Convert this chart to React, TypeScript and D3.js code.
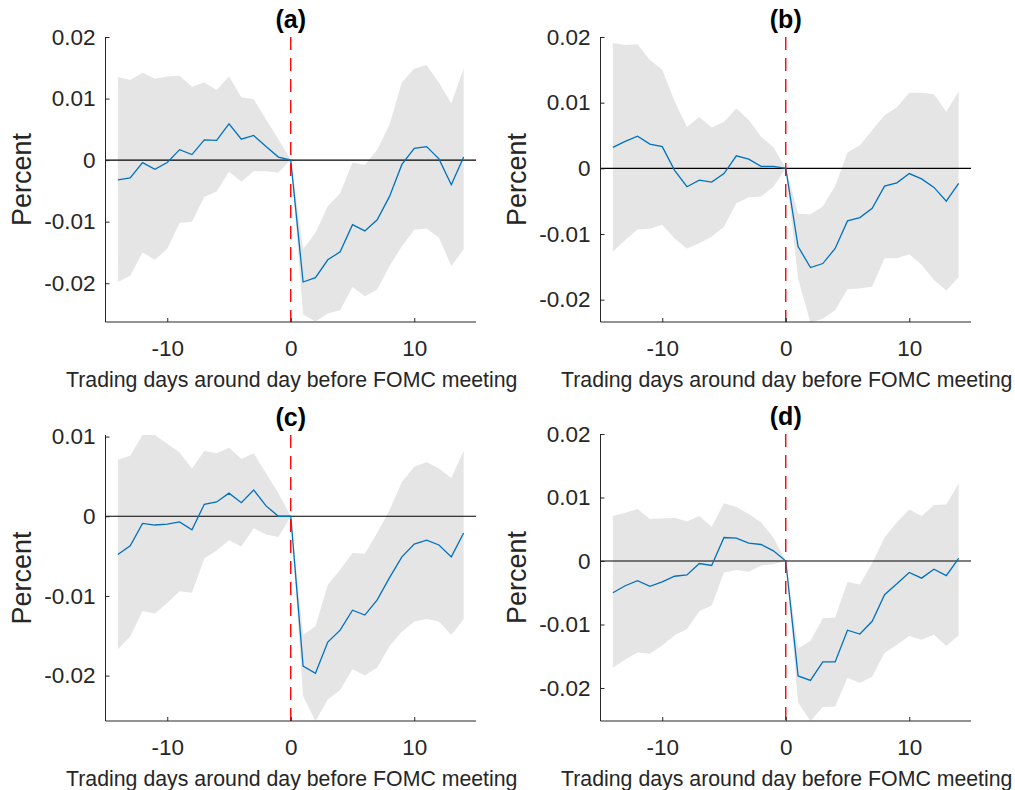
import { useEffect, useRef } from 'react';
import * as d3 from 'd3';

const days = [-14, -13, -12, -11, -10, -9, -8, -7, -6, -5, -4, -3, -2, -1, 0, 1, 2, 3, 4, 5, 6, 7, 8, 9, 10, 11, 12, 13, 14];

const aMean = [-0.0032, -0.0029, -0.0004, -0.0015, -0.0004, 0.0017, 0.0009, 0.0033, 0.0032, 0.0059, 0.0034, 0.0040, 0.0022, 0.0005, 0, -0.0198, -0.0191, -0.0162, -0.0149, -0.0105, -0.0115, -0.0097, -0.0059, -0.0007, 0.0019, 0.0022, 0.0002, -0.0040, 0.0005];
const aUpper = [0.0135, 0.0130, 0.0142, 0.0132, 0.0136, 0.0137, 0.0119, 0.0126, 0.0114, 0.0136, 0.0102, 0.0099, 0.0066, 0.0034, 0, -0.0145, -0.0118, -0.0075, -0.0054, -0.0004, -0.0008, 0.0017, 0.0058, 0.0126, 0.0149, 0.0154, 0.0126, 0.0092, 0.0149];
const aLower = [-0.0198, -0.0188, -0.0150, -0.0162, -0.0144, -0.0102, -0.0100, -0.0060, -0.0051, -0.0019, -0.0035, -0.0018, -0.0018, -0.0020, 0, -0.0251, -0.0262, -0.0249, -0.0244, -0.0206, -0.0221, -0.0210, -0.0172, -0.0140, -0.0113, -0.0111, -0.0126, -0.0172, -0.0145];

const bMean = [0.0032, 0.0041, 0.0049, 0.0037, 0.0033, -0.0003, -0.0028, -0.0018, -0.0021, -0.0008, 0.0019, 0.0014, 0.0003, 0.0003, 0, -0.0119, -0.0151, -0.0145, -0.0122, -0.0080, -0.0075, -0.0061, -0.0027, -0.0022, -0.0008, -0.0016, -0.0029, -0.0050, -0.0023];
const bUpper = [0.0191, 0.0188, 0.0189, 0.0165, 0.0150, 0.0102, 0.0063, 0.0078, 0.0062, 0.0071, 0.0091, 0.0074, 0.0048, 0.0032, 0, -0.0069, -0.0070, -0.0058, -0.0027, 0.0024, 0.0035, 0.0058, 0.0081, 0.0093, 0.0115, 0.0115, 0.0113, 0.0086, 0.0117];
const bLower = [-0.0127, -0.0109, -0.0093, -0.0092, -0.0086, -0.0107, -0.0122, -0.0114, -0.0104, -0.0089, -0.0053, -0.0044, -0.0043, -0.0028, 0, -0.0168, -0.0235, -0.0229, -0.0216, -0.0184, -0.0183, -0.0180, -0.0137, -0.0137, -0.0131, -0.0147, -0.0170, -0.0186, -0.0166];

const cMean = [-0.0048, -0.0037, -0.0009, -0.0011, -0.0010, -0.0007, -0.0017, 0.0015, 0.0018, 0.0029, 0.0017, 0.0033, 0.0013, 0.0000, 0, -0.0188, -0.0197, -0.0158, -0.0143, -0.0118, -0.0124, -0.0105, -0.0077, -0.0051, -0.0035, -0.0030, -0.0036, -0.0051, -0.0021];
const cUpper = [0.0071, 0.0076, 0.0102, 0.0102, 0.0091, 0.0080, 0.0060, 0.0082, 0.0079, 0.0086, 0.0072, 0.0079, 0.0054, 0.0029, 0, -0.0149, -0.0138, -0.0086, -0.0067, -0.0046, -0.0047, -0.0021, 0.0008, 0.0043, 0.0062, 0.0068, 0.0060, 0.0048, 0.0082];
const cLower = [-0.0167, -0.0151, -0.0119, -0.0122, -0.0109, -0.0094, -0.0096, -0.0053, -0.0043, -0.0030, -0.0038, -0.0015, -0.0023, -0.0026, 0, -0.0226, -0.0257, -0.0230, -0.0218, -0.0192, -0.0200, -0.0190, -0.0163, -0.0145, -0.0132, -0.0129, -0.0132, -0.0149, -0.0129];

const dMean = [-0.0050, -0.0039, -0.0031, -0.0040, -0.0033, -0.0024, -0.0022, -0.0004, -0.0007, 0.0037, 0.0036, 0.0028, 0.0026, 0.0016, 0, -0.0181, -0.0188, -0.0159, -0.0159, -0.0109, -0.0115, -0.0095, -0.0053, -0.0036, -0.0018, -0.0027, -0.0013, -0.0023, 0.0004];
const dUpper = [0.0071, 0.0076, 0.0082, 0.0066, 0.0067, 0.0068, 0.0062, 0.0071, 0.0054, 0.0091, 0.0085, 0.0074, 0.0061, 0.0037, 0, -0.0138, -0.0126, -0.0090, -0.0089, -0.0033, -0.0037, -0.0003, 0.0037, 0.0061, 0.0081, 0.0071, 0.0088, 0.0089, 0.0122];
const dLower = [-0.0168, -0.0155, -0.0144, -0.0146, -0.0133, -0.0117, -0.0107, -0.0079, -0.0070, -0.0018, -0.0014, -0.0017, -0.0007, -0.0005, 0, -0.0223, -0.0252, -0.0230, -0.0229, -0.0184, -0.0192, -0.0182, -0.0145, -0.0132, -0.0118, -0.0124, -0.0116, -0.0134, -0.0117];

const xTicks = [-10, 0, 10];
const yTicks = [-0.02, -0.01, 0, 0.01, 0.02];
const yTicksC = [-0.02, -0.01, 0, 0.01];
const xLabel = 'Trading days around day before FOMC meeting';
const yLabel = 'Percent';

const FONT = "'Liberation Sans', Arial, Helvetica, sans-serif";
const INK = '#262626';

const panels = [
  { id: 'a', title: '(a)', mean: aMean, upper: aUpper, lower: aLower, ylim: [-0.0263, 0.02], ticks: yTicks, box: { l: 105.5, r: 476, t: 37, b: 322 } },
  { id: 'b', title: '(b)', mean: bMean, upper: bUpper, lower: bLower, ylim: [-0.0234, 0.02], ticks: yTicks, box: { l: 600.5, r: 971, t: 37, b: 322 } },
  { id: 'c', title: '(c)', mean: cMean, upper: cUpper, lower: cLower, ylim: [-0.0257, 0.0102], ticks: yTicksC, box: { l: 105.5, r: 476, t: 435, b: 721 } },
  { id: 'd', title: '(d)', mean: dMean, upper: dUpper, lower: dLower, ylim: [-0.0252, 0.02], ticks: yTicks, box: { l: 600.5, r: 971, t: 434, b: 721 } },
];

export default function App() {
  const svgRef = useRef<SVGSVGElement>(null);

  useEffect(() => {
    if (!svgRef.current) return;
    const svg = d3.select(svgRef.current);
    svg.selectAll('*').remove();

    for (const p of panels) {
      const { l, r, t, b } = p.box;
      const x = d3.scaleLinear().domain([-15, 15]).range([l, r]);
      const y = d3.scaleLinear().domain(p.ylim).range([b, t]);
      const g = svg.append('g');

      g.append('clipPath').attr('id', `clip-${p.id}`)
        .append('rect').attr('x', l).attr('y', t).attr('width', r - l).attr('height', b - t);
      const plot = g.append('g').attr('clip-path', `url(#clip-${p.id})`);

      // confidence band
      const band = d3.area<number>()
        .x((_, i) => x(days[i]))
        .y0((_, i) => y(p.lower[i]))
        .y1((_, i) => y(p.upper[i]));
      plot.append('path').datum(p.mean).attr('d', band)
        .style('fill', '#e5e5e5').style('stroke', 'none');

      // zero line
      plot.append('line')
        .attr('x1', x(-15)).attr('x2', x(15)).attr('y1', y(0)).attr('y2', y(0))
        .style('stroke', '#000').style('stroke-width', 1.2);

      // mean response
      const line = d3.line<number>()
        .x((_, i) => x(days[i]))
        .y(d => y(d));
      plot.append('path').datum(p.mean).attr('d', line)
        .style('fill', 'none').style('stroke', '#0072BD').style('stroke-width', 1.3);

      // event day
      plot.append('line')
        .attr('x1', x(0)).attr('x2', x(0)).attr('y1', t).attr('y2', b)
        .style('stroke', '#ff0000').style('stroke-width', 1.4)
        .style('stroke-dasharray', '13,8');

      // axes
      const yAxis = d3.axisLeft(y).tickValues(p.ticks).tickSize(-4).tickPadding(10)
        .tickFormat(d => String(d));
      const gy = g.append('g').attr('transform', `translate(${l},0)`).call(yAxis);
      const xAxis = d3.axisBottom(x).tickValues(xTicks).tickSize(-4).tickPadding(18)
        .tickFormat(d => String(d));
      const gx = g.append('g').attr('transform', `translate(0,${b})`).call(xAxis);

      for (const ax of [gx, gy]) {
        ax.select('.domain').style('stroke', INK).style('stroke-width', 1);
        ax.selectAll('.tick line').style('stroke', INK);
        ax.selectAll('text').style('fill', INK).style('font-family', FONT).style('font-size', '22.5px');
      }
      // MATLAB style: no outer tick caps on the domain
      gy.select('.domain').attr('d', `M0,${t}V${b}`);
      gx.select('.domain').attr('d', `M${l},0H${r}`);

      g.append('text')
        .attr('x', (l + r) / 2 + 1).attr('y', b + 65)
        .attr('text-anchor', 'middle')
        .style('font-family', FONT).style('font-size', '21.3px').style('fill', INK)
        .text(xLabel);

      g.append('text')
        .attr('transform', `translate(${l - 75},${(t + b) / 2}) rotate(-90)`)
        .attr('text-anchor', 'middle')
        .style('font-family', FONT).style('font-size', '27px').style('fill', INK)
        .text(yLabel);

      g.append('text')
        .attr('x', (l + r) / 2).attr('y', t - 9)
        .attr('text-anchor', 'middle')
        .style('font-family', FONT).style('font-size', '25px').style('font-weight', 'bold')
        .style('fill', '#000')
        .text(p.title);
    }
  }, []);

  return (
    <svg ref={svgRef} width={1015} height={790}
      style={{ position: 'absolute', left: 0, top: 0, background: '#fff' }} />
  );
}
